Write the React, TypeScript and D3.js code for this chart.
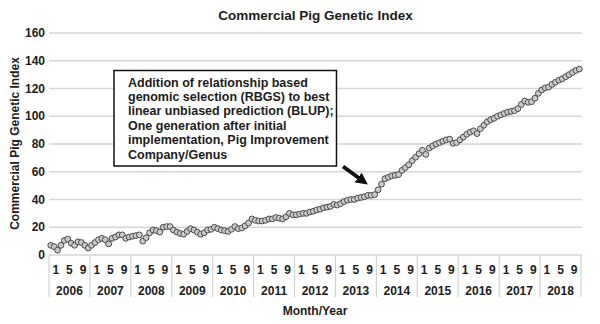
import React from 'react';
import * as d3 from 'd3';

const years = ['2006', '2007', '2008', '2009', '2010', '2011', '2012', '2013', '2014', '2015', '2016', '2017', '2018'];
const monthLabels = [1, 5, 9];
const yTicks = [0, 20, 40, 60, 80, 100, 120, 140, 160];

const v2006 = [7, 6, 3.5, 7, 10.5, 11.5, 8.5, 7, 9.5, 9, 7, 5];
const v2007 = [7, 9, 11, 12, 11, 8, 12, 13, 14.5, 14.5, 12, 13];
const v2008 = [13.5, 14, 14.5, 10, 12.5, 16, 18, 17.5, 16.5, 20, 20.5, 20.5];
const v2009 = [18, 16.5, 15.5, 15, 17, 19, 18, 16.5, 15, 16, 18, 18.5];
const v2010 = [20, 19, 18, 17.5, 17, 18.5, 20.5, 19, 19.5, 21, 23, 26];
const v2011 = [25, 24.5, 24.5, 25, 26, 26, 27, 26.5, 26, 27.5, 30, 29];
const v2012 = [29, 29.5, 30, 30, 31, 31.5, 32.5, 33, 34, 34.5, 35, 36.5];
const v2013 = [36, 37, 38.5, 39.5, 40, 40, 41, 41.5, 42, 43, 43, 43.5];
const v2014 = [47, 51, 55, 56, 57, 57.5, 58, 61, 63, 65, 68, 70.5];
const v2015 = [73, 75.5, 72.5, 77, 78.5, 80, 81, 82, 83, 83.5, 80.5, 81];
const v2016 = [83, 85, 87, 88.5, 89.5, 87.5, 91, 93.5, 96, 97.5, 98.5, 100];
const v2017 = [101, 102, 103, 103.5, 104, 105.5, 108.5, 111, 110, 110.5, 113, 116.5];
const v2018 = [119, 120.5, 121, 123, 124.5, 126, 127, 128.5, 130, 131.5, 133, 134];

const indexValues = [
  ...v2006, ...v2007, ...v2008, ...v2009, ...v2010, ...v2011, ...v2012,
  ...v2013, ...v2014, ...v2015, ...v2016, ...v2017, ...v2018,
];

const annotationLines = [
  'Addition of relationship based',
  'genomic selection (RBGS) to best',
  'linear unbiased prediction (BLUP);',
  'One generation after initial',
  'implementation, Pig Improvement',
  'Company/Genus',
];

const FONT = '"Liberation Sans", Arial, Helvetica, sans-serif';
const TXT = '#1c1c1c';

export default function App() {
  const W = 600;
  const H = 324;
  const left = 49;
  const right = 581;
  const x = d3.scaleBand<number>().domain(d3.range(indexValues.length)).range([left, right]).padding(0);
  const y = d3.scaleLinear().domain([0, 160]).range([255, 33]);
  const bw = x.bandwidth();

  const yearStart = (i: number) => x(i * 12) as number;

  return (
    <svg width={W} height={H} style={{ position: 'absolute', left: 0, top: 0, background: '#fff' }} fontFamily={FONT} fontWeight="bold">
      <defs>
        <marker id="ah" viewBox="0 0 10 10" refX="5" refY="5" markerWidth="3" markerHeight="3" orient="auto">
          <path d="M0,0 L10,5 L0,10 z" fill="#111" />
        </marker>
      </defs>
      <rect width={W} height={H} fill="#fff" />
      <text x={315.5} y={20} textAnchor="middle" fontSize={13.5} fill={TXT}>Commercial Pig Genetic Index</text>

      {yTicks.map((t) => (
        <g key={t}>
          <line x1={left} x2={582} y1={y(t)} y2={y(t)} stroke="#d6d6d6" strokeWidth={1.5} />
          <text x={45} y={y(t) + 4.2} textAnchor="end" fontSize={12} fill={TXT}>{t}</text>
        </g>
      ))}

      <text transform={`translate(18.5,143.5) rotate(-90)`} textAnchor="middle" fontSize={12} fill={TXT}>Commercial Pig Genetic Index</text>

      {d3.range(years.length + 1).map((i) => {
        const xx = i < years.length ? yearStart(i) : right;
        return <line key={'sep' + i} x1={xx} x2={xx} y1={255} y2={297} stroke="#d2d2d2" strokeWidth={1.2} />;
      })}

      {years.map((yr, i) => (
        <g key={yr}>
          {monthLabels.map((m) => {
            const a = x(i * 12 + m - 1) as number;
            const b = (x(i * 12 + m + 2) as number) + bw;
            return (
              <text key={m} x={(a + b) / 2} y={273.5} textAnchor="middle" fontSize={12} fill={TXT}>{m}</text>
            );
          })}
          <text x={yearStart(i) + 6 * bw} y={294.5} textAnchor="middle" fontSize={12} fill={TXT}>{yr}</text>
        </g>
      ))}

      <text x={315} y={314.5} textAnchor="middle" fontSize={12} fill={TXT}>Month/Year</text>

      {indexValues.map((v, i) => (
        <circle key={i} cx={(x(i) as number) + bw / 2} cy={y(v)} r={2.9} fill="#cacaca" stroke="#4a4a4a" strokeWidth={1} />
      ))}

      <rect x={114} y={70.5} width={222.5} height={95.5} fill="#fff" stroke="#111" strokeWidth={1.5} />
      {annotationLines.map((l, i) => (
        <text key={i} x={128} y={86.5 + i * 14.4} fontSize={12.5} fill={TXT}>{l}</text>
      ))}

      <line x1={343} y1={166.5} x2={363} y2={181} stroke="#111" strokeWidth={4} markerEnd="url(#ah)" />
    </svg>
  );
}
